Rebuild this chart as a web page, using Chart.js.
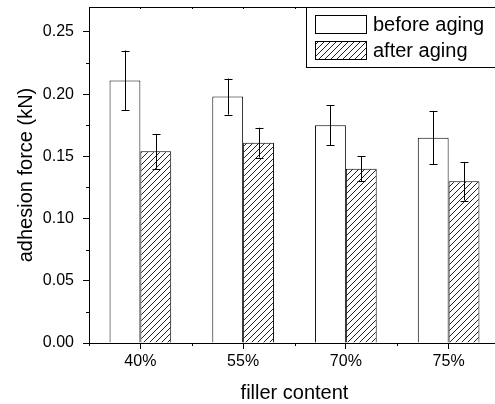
<!DOCTYPE html>
<html lang="en">
<head>
    <meta charset="UTF-8">
    <title>Adhesion Force vs Filler Content</title>
    <script src="https://cdn.jsdelivr.net/npm/chart.js"></script>
    <style>
        html, body {
            margin: 0;
            padding: 0;
            background: #ffffff;
            overflow: hidden;
        }
        #wrap {
            width: 495px;
            height: 404px;
            overflow: hidden;
        }
        canvas {
            display: block;
        }
    </style>
</head>
<body>
    <div id="wrap">
        <canvas id="forceChart" width="505" height="404"></canvas>
    </div>

    <script>
        // Values
        const categories = ['40%', '55%', '70%', '75%'];
        const beforeAging = [0.211, 0.198, 0.175, 0.165];
        const beforeErr = [0.024, 0.0145, 0.016, 0.0215];
        const afterAging = [0.154, 0.161, 0.140, 0.130];
        const afterErr = [0.014, 0.012, 0.010, 0.0155];
        const yTicks = [0, 0.05, 0.10, 0.15, 0.20, 0.25];

        const FONT = "'Liberation Sans', Arial, sans-serif";

        // diagonal hatch pattern for "after aging"
        function makeHatch() {
            const c = document.createElement('canvas');
            c.width = 6;
            c.height = 6;
            const g = c.getContext('2d');
            g.fillStyle = '#ffffff';
            g.fillRect(0, 0, 6, 6);
            g.strokeStyle = '#222222';
            g.lineWidth = 1;
            g.beginPath();
            g.moveTo(0, 6); g.lineTo(6, 0);
            g.moveTo(-1, 1); g.lineTo(1, -1);
            g.moveTo(5, 7); g.lineTo(7, 5);
            g.stroke();
            return g.createPattern(c, 'repeat');
        }
        const hatch = makeHatch();

        const errorsByDataset = [beforeErr, afterErr];

        // error bars, minor ticks, top frame line and the legend box
        const extras = {
            id: 'extras',
            afterDatasetsDraw(chart) {
                const ctx = chart.ctx;
                const y = chart.scales.y;
                ctx.save();
                ctx.strokeStyle = '#000';
                ctx.lineWidth = 1;
                chart.data.datasets.forEach((ds, di) => {
                    const meta = chart.getDatasetMeta(di);
                    meta.data.forEach((bar, i) => {
                        const v = ds.data[i];
                        const e = errorsByDataset[di][i];
                        const x = Math.round(bar.x) + 0.5;
                        const yTop = y.getPixelForValue(v + e);
                        const yBot = y.getPixelForValue(v - e);
                        ctx.beginPath();
                        ctx.moveTo(x, yTop); ctx.lineTo(x, yBot);
                        ctx.moveTo(x - 4, Math.round(yTop) + 0.5); ctx.lineTo(x + 4, Math.round(yTop) + 0.5);
                        ctx.moveTo(x - 4, Math.round(yBot) + 0.5); ctx.lineTo(x + 4, Math.round(yBot) + 0.5);
                        ctx.stroke();
                    });
                });
                ctx.restore();
            },
            afterDraw(chart) {
                const ctx = chart.ctx;
                const area = chart.chartArea;
                const x = chart.scales.x;
                const y = chart.scales.y;
                ctx.save();
                ctx.strokeStyle = '#000';
                ctx.lineWidth = 1;
                ctx.beginPath();
                // top frame
                ctx.moveTo(area.left, area.top + 0.5);
                ctx.lineTo(area.right, area.top + 0.5);
                // y minor ticks
                for (let i = 0; i < yTicks.length; i++) {
                    const py = Math.round(y.getPixelForValue(yTicks[i] + 0.025)) + 0.5;
                    if (py < area.top) continue;
                    ctx.moveTo(area.left - 3, py);
                    ctx.lineTo(area.left, py);
                }
                // x minor ticks at category boundaries + small top ticks
                const step = (area.right - area.left) / categories.length;
                for (let i = 0; i < categories.length; i++) {
                    const px = Math.round(area.left + i * step) + 0.5;
                    ctx.moveTo(px, area.bottom);
                    ctx.lineTo(px, area.bottom + 3);
                    ctx.moveTo(px, area.top);
                    ctx.lineTo(px, area.top + 2);
                }
                for (let i = 0; i < categories.length; i++) {
                    const px = Math.round(x.getPixelForValue(i)) + 0.5;
                    ctx.moveTo(px, area.top);
                    ctx.lineTo(px, area.top + 2);
                }
                ctx.stroke();

                // legend box
                const lx = 306.5, ly = area.top + 0.5;
                ctx.fillStyle = '#fff';
                ctx.fillRect(lx, ly, area.right - lx + 10, 60);
                ctx.strokeRect(lx, ly, area.right - lx + 10, 60);
                const labels = chart.data.datasets.map(d => d.label);
                const fills = chart.data.datasets.map(d => d.backgroundColor);
                ctx.font = '20px ' + FONT;
                ctx.textBaseline = 'middle';
                ctx.textAlign = 'left';
                labels.forEach((lab, i) => {
                    const sy = area.top + 8.5 + i * 26;
                    ctx.fillStyle = fills[i];
                    ctx.fillRect(315.5, sy, 51, 18);
                    ctx.strokeRect(315.5, sy, 51, 18);
                    ctx.fillStyle = '#000';
                    ctx.fillText(lab, 373, sy + 9.5);
                });
                ctx.restore();
            }
        };

        const ctx = document.getElementById('forceChart').getContext('2d');
        const forceChart = new Chart(ctx, {
            type: 'bar',
            data: {
                labels: categories,
                datasets: [{
                    label: 'before aging',
                    data: beforeAging,
                    backgroundColor: '#ffffff',
                    borderColor: '#000000',
                    borderWidth: 1,
                    categoryPercentage: 0.6,
                    barPercentage: 1.0
                }, {
                    label: 'after aging',
                    data: afterAging,
                    backgroundColor: hatch,
                    borderColor: '#000000',
                    borderWidth: 1,
                    categoryPercentage: 0.6,
                    barPercentage: 1.0
                }]
            },
            options: {
                responsive: false,
                animation: false,
                devicePixelRatio: 1,
                layout: {
                    padding: { top: 7, right: 5, left: 0, bottom: 0 }
                },
                plugins: {
                    legend: { display: false },
                    tooltip: { enabled: false }
                },
                scales: {
                    x: {
                        offset: true,
                        grid: {
                            offset: false,
                            drawOnChartArea: false,
                            drawTicks: true,
                            tickLength: 6,
                            tickColor: '#000'
                        },
                        border: { display: true, color: '#000', width: 1 },
                        ticks: {
                            color: '#000',
                            padding: 3,
                            font: { family: FONT, size: 16 }
                        },
                        title: {
                            display: true,
                            text: 'filler content',
                            color: '#000',
                            font: { family: FONT, size: 20, lineHeight: 1 },
                            padding: { top: 0, bottom: 1 }
                        },
                        afterFit: s => {
                            s.height = 61;
                            s.paddingLeft = 0;
                            s.paddingRight = 0;
                        }
                    },
                    y: {
                        min: 0,
                        max: 0.27,
                        grid: {
                            drawOnChartArea: false,
                            drawTicks: true,
                            tickLength: 6,
                            tickColor: '#000'
                        },
                        border: { display: true, color: '#000', width: 1 },
                        ticks: {
                            stepSize: 0.05,
                            color: '#000',
                            padding: 9,
                            font: { family: FONT, size: 16 },
                            callback: v => v.toFixed(2)
                        },
                        afterBuildTicks: s => {
                            s.ticks = yTicks.map(v => ({ value: v }));
                        },
                        title: {
                            display: true,
                            text: 'adhesion force (kN)',
                            color: '#000',
                            font: { family: FONT, size: 20, lineHeight: 1 },
                            padding: { top: 16, bottom: 0 }
                        },
                        afterFit: s => {
                            s.width = 89;
                            s.paddingTop = 0;
                            s.paddingBottom = 0;
                        }
                    }
                }
            },
            plugins: [extras]
        });
    </script>
</body>
</html>
